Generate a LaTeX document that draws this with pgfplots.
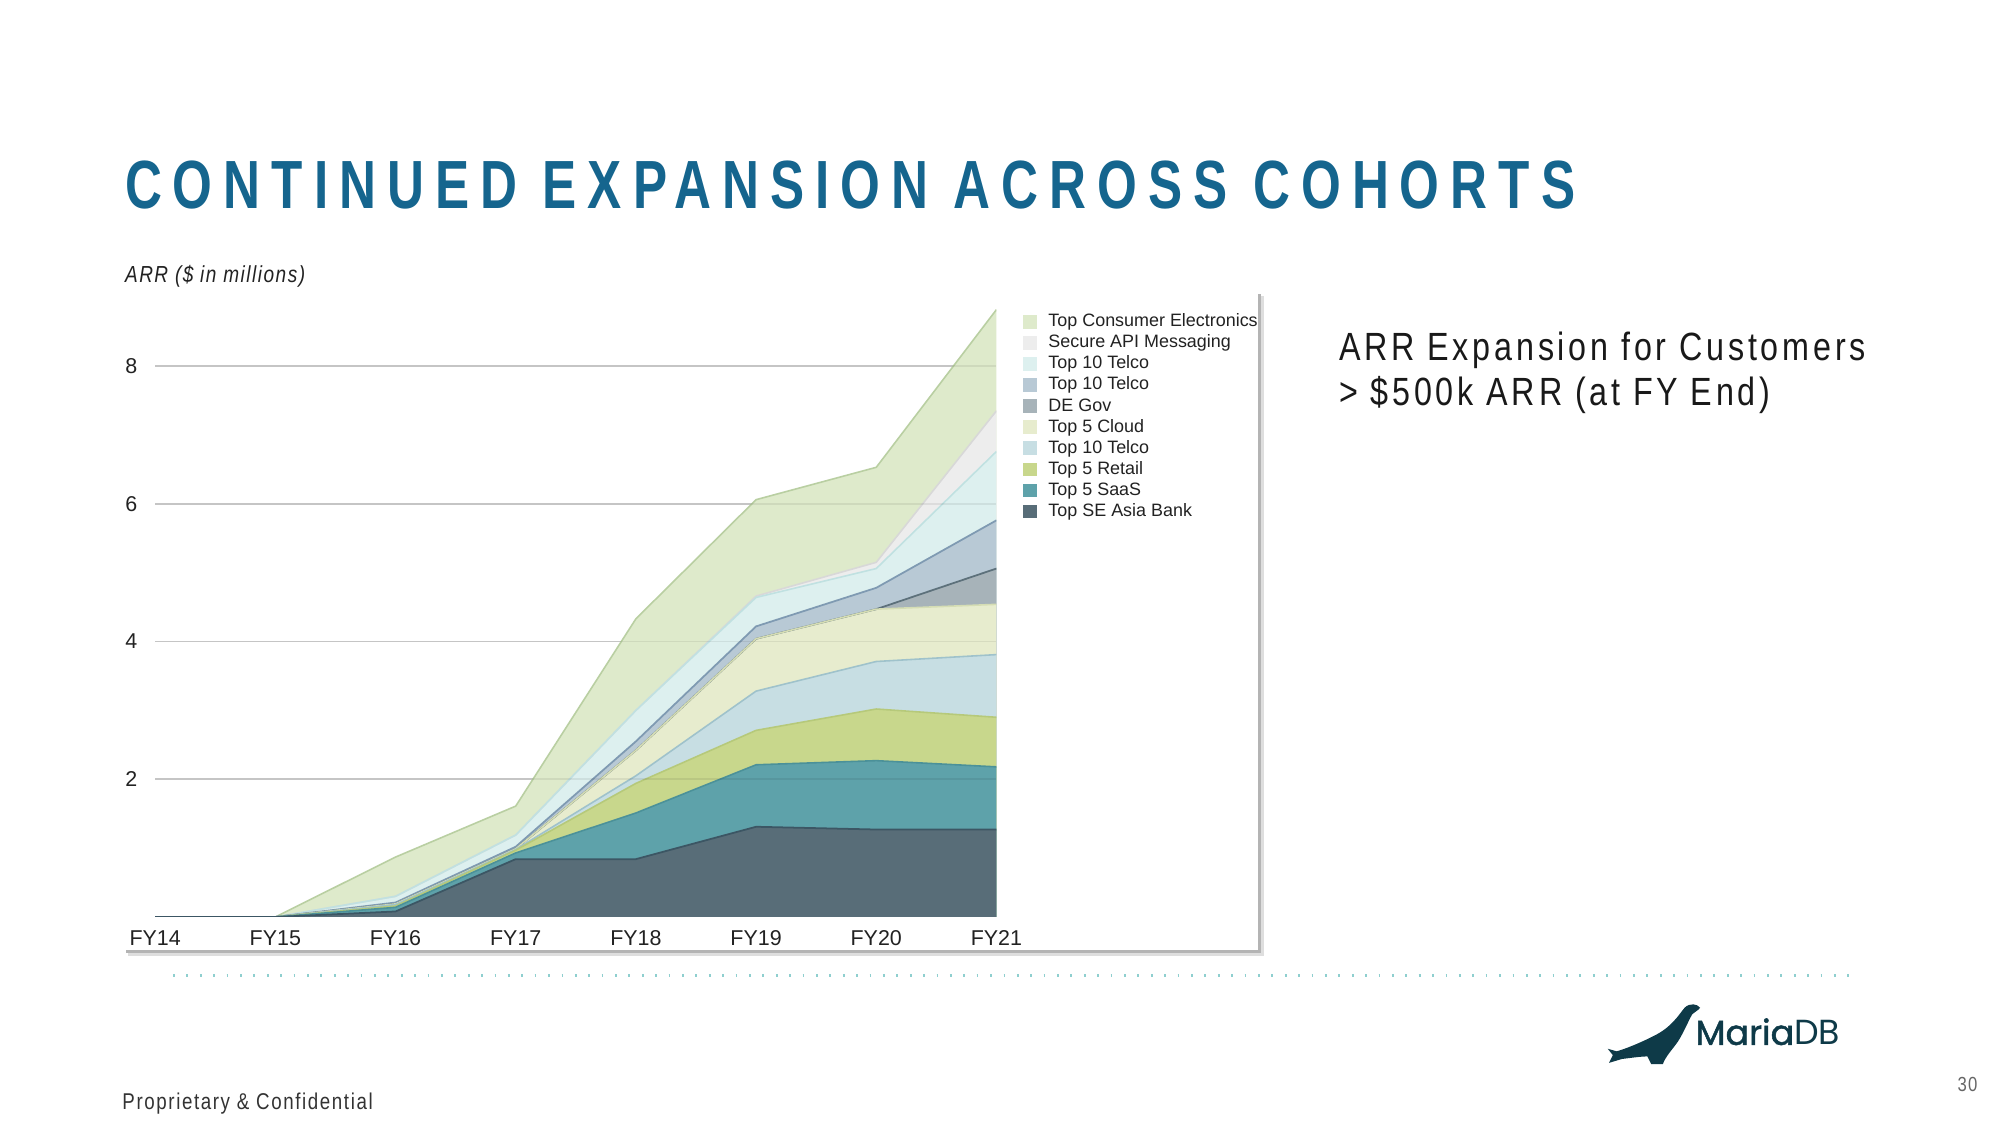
\documentclass[border=0pt]{standalone}
\usepackage{fontspec}
\setmainfont{Liberation Sans}
\newfontfamily\titlefont{Liberation Sans}[FakeStretch=0.75,LetterSpace=16.2]
\newfontfamily\subfont{Liberation Sans}[FakeStretch=0.82,LetterSpace=9.6]
\newfontfamily\arrfont{Liberation Sans}[FakeStretch=0.82,LetterSpace=6.5]
\newfontfamily\footfont{Liberation Sans}[FakeStretch=0.82,LetterSpace=7]
\newfontfamily\logofont{Poppins}
\newfontfamily\logofontb{Poppins}[FakeBold=1.5]
\usepackage{pgfplots}
\usepackage{pgfplotstable}
\pgfplotsset{compat=1.18}

\definecolor{titleblue}{HTML}{15658E}
\definecolor{logoblue}{HTML}{0E3A48}
\definecolor{dotcol}{HTML}{8FCFCF}
\definecolor{shadowA}{HTML}{B4B4B4}
\definecolor{shadowB}{HTML}{DEDEDE}
\definecolor{gridgray}{HTML}{D4D4D4}
\definecolor{txt}{HTML}{222222}

\definecolor{cBank}{HTML}{586D78}
\definecolor{cSaas}{HTML}{5EA2AA}
\definecolor{cRetail}{HTML}{C8D78C}
\definecolor{cTlb}{HTML}{C7DEE3}
\definecolor{cCloud}{HTML}{E7ECCE}
\definecolor{cDegov}{HTML}{A7B3B9}
\definecolor{cTbg}{HTML}{B8C9D5}
\definecolor{cTcy}{HTML}{DDF0EF}
\definecolor{cApi}{HTML}{EDEDED}
\definecolor{cCe}{HTML}{DEEACB}

\definecolor{lBank}{HTML}{3C5664}
\definecolor{lSaas}{HTML}{4B9199}
\definecolor{lRetail}{HTML}{B6C97A}
\definecolor{lTlb}{HTML}{9FC2CB}
\definecolor{lCloud}{HTML}{D5DDB4}
\definecolor{lDegov}{HTML}{5D717B}
\definecolor{lTbg}{HTML}{7F9AB2}
\definecolor{lTcy}{HTML}{C0E1E1}
\definecolor{lApi}{HTML}{D8D8D8}
\definecolor{lCe}{HTML}{B9CFA2}

% cumulative (stacked) tops of each cohort, $ millions
\pgfplotstableread{
x bank saas retail tlb cloud degov tbg tcy api ce
0 0 0 0 0 0 0 0 0 0 0
1 0 0 0 0 0 0 0 0 0 0
2 0.08 0.14 0.16 0.18 0.19 0.19 0.21 0.30 0.30 0.87
3 0.84 0.93 0.97 0.98 0.99 0.99 1.02 1.19 1.19 1.61
4 0.84 1.51 1.94 2.05 2.42 2.42 2.55 3.00 3.00 4.33
5 1.31 2.21 2.71 3.28 4.04 4.04 4.22 4.64 4.66 6.06
6 1.27 2.27 3.02 3.71 4.47 4.47 4.78 5.06 5.15 6.53
7 1.27 2.18 2.90 3.81 4.54 5.06 5.76 6.76 7.35 8.82
}\cum

\begin{document}
\begin{tikzpicture}
\begin{scope}[x=0.012821cm,y=-0.012821cm]
\path[use as bounding box] (0,0) rectangle (1560,877.5);
\fill[white] (0,0) rectangle (1560,877.5);
% chart panel with drop shadow
\fill[shadowB] (100,231) rectangle (986,746);
\fill[shadowA] (98,229) rectangle (983.5,743.5);
\fill[white] (97,228) rectangle (981,741);
\end{scope}

\begin{axis}[
  at={(1.55134cm,-9.16702cm)}, anchor=south west,
  scale only axis, width=8.4105cm, height=6.1272cm,
  xmin=0, xmax=7, ymin=0, ymax=8.9,
  axis line style={draw=none}, tick style={draw=none},
  xtick={0,1,2,3,4,5,6,7},
  xticklabels={FY14,FY15,FY16,FY17,FY18,FY19,FY20,FY21},
  ytick={2,4,6,8},
  ymajorgrids, grid style={color=gridgray, line width=0.45pt},
  /pgf/number format/assume math mode=true,
  xticklabel style={font=\fontsize{6.1}{7}\selectfont, text=txt, inner sep=0pt, anchor=north, yshift=-3.6pt},
  yticklabel style={font=\fontsize{6.1}{7}\selectfont, text=txt, inner sep=0pt, anchor=east, xshift=-4.9pt},
  legend style={at={(1.0305,0.9856)}, anchor=north west, draw=none, fill=none,
    inner sep=0pt, font=\fontsize{5.1}{6}\selectfont, text=txt,
    row sep=1.4pt, column sep=3.4pt,
    nodes={inner sep=0pt, text height=3.7pt, text depth=0.9pt}},
  legend cell align=left,
  legend image code/.code={\path[#1, draw=none] (0pt,-1.95pt) rectangle (3.9pt,1.95pt);},
]
\addplot[fill=cCe, draw=none] table[x=x,y=ce]{\cum} \closedcycle;
\addlegendentry{Top Consumer Electronics}
\addplot[fill=cApi, draw=none] table[x=x,y=api]{\cum} \closedcycle;
\addlegendentry{Secure API Messaging}
\addplot[fill=cTcy, draw=none] table[x=x,y=tcy]{\cum} \closedcycle;
\addlegendentry{Top 10 Telco}
\addplot[fill=cTbg, draw=none] table[x=x,y=tbg]{\cum} \closedcycle;
\addlegendentry{Top 10 Telco}
\addplot[fill=cDegov, draw=none] table[x=x,y=degov]{\cum} \closedcycle;
\addlegendentry{DE Gov}
\addplot[fill=cCloud, draw=none] table[x=x,y=cloud]{\cum} \closedcycle;
\addlegendentry{Top 5 Cloud}
\addplot[fill=cTlb, draw=none] table[x=x,y=tlb]{\cum} \closedcycle;
\addlegendentry{Top 10 Telco}
\addplot[fill=cRetail, draw=none] table[x=x,y=retail]{\cum} \closedcycle;
\addlegendentry{Top 5 Retail}
\addplot[fill=cSaas, draw=none] table[x=x,y=saas]{\cum} \closedcycle;
\addlegendentry{Top 5 SaaS}
\addplot[fill=cBank, draw=none] table[x=x,y=bank]{\cum} \closedcycle;
\addlegendentry{Top SE Asia Bank}
% boundary lines
\addplot[forget plot, lCe, line width=0.45pt] table[x=x,y=ce]{\cum};
\addplot[forget plot, lApi, line width=0.45pt] table[x=x,y=api]{\cum};
\addplot[forget plot, lTcy, line width=0.45pt] table[x=x,y=tcy]{\cum};
\addplot[forget plot, lTbg, line width=0.5pt] table[x=x,y=tbg]{\cum};
\addplot[forget plot, lDegov, line width=0.5pt] table[x=x,y=degov]{\cum};
\addplot[forget plot, lCloud, line width=0.45pt] table[x=x,y=cloud]{\cum};
\addplot[forget plot, lTlb, line width=0.45pt] table[x=x,y=tlb]{\cum};
\addplot[forget plot, lRetail, line width=0.45pt] table[x=x,y=retail]{\cum};
\addplot[forget plot, lSaas, line width=0.45pt] table[x=x,y=saas]{\cum};
\addplot[forget plot, lBank, line width=0.5pt] table[x=x,y=bank]{\cum};
% faint grid visible through the light areas
\pgfplotsinvokeforeach{2,4,6,8}{\draw[black, opacity=0.07, line width=0.45pt] (axis cs:0,#1) -- (axis cs:7,#1);}
\end{axis}

\begin{scope}[x=0.012821cm,y=-0.012821cm]
% title
\node[anchor=base west, inner sep=0pt, text=titleblue] at (97,163)
  {\titlefont\bfseries\fontsize{19.4}{22}\selectfont CONTINUED EXPANSION ACROSS COHORTS};
% axis caption
\node[anchor=base west, inner sep=0pt, text=txt] at (97,220)
  {\arrfont\itshape\fontsize{6.6}{8}\selectfont ARR (\$ in millions)};
% side text
\node[anchor=base west, inner sep=0pt, text=black!90] at (1044,281)
  {\subfont\fontsize{11.2}{13}\selectfont ARR Expansion for Customers};
\node[anchor=base west, inner sep=0pt, text=black!90] at (1044,316)
  {\subfont\fontsize{11.2}{13}\selectfont > \$500k ARR (at FY End)};
% dotted separator
\draw[dotcol, line width=0.9pt, dash pattern=on 0.5pt off 3.31pt] (135,761) -- (1446,761);
% footer
\node[anchor=base west, inner sep=0pt, text=black!80] at (95,865)
  {\footfont\fontsize{6.5}{8}\selectfont Proprietary \& Confidential};
\node[anchor=base east, inner sep=0pt, text=black!60] at (1543,851)
  {\footfont\fontsize{5.8}{7}\selectfont 30};
% logo
\fill[logoblue] (1326,786) .. controls (1324,783) and (1318,782) .. (1314,786)
  .. controls (1309,792) and (1304,801) .. (1290,808)
  .. controls (1278,814) and (1268,818) .. (1261,820)
  -- (1254,818) -- (1258,823) -- (1255,829) -- (1265,826)
  .. controls (1273,825) and (1280,824) .. (1285,824)
  -- (1288,830) -- (1297,830)
  .. controls (1299,824) and (1305,818) .. (1309,812)
  .. controls (1314,804) and (1317,796) .. (1320,791)
  .. controls (1322,789) and (1325,788) .. (1326,786) -- cycle;
\node[anchor=base west, inner sep=0pt, text=logoblue] at (1322,815)
  {\fontsize{9.9}{11}\selectfont{\logofontb Maria}{\logofont DB}};
\end{scope}
\end{tikzpicture}
\end{document}
